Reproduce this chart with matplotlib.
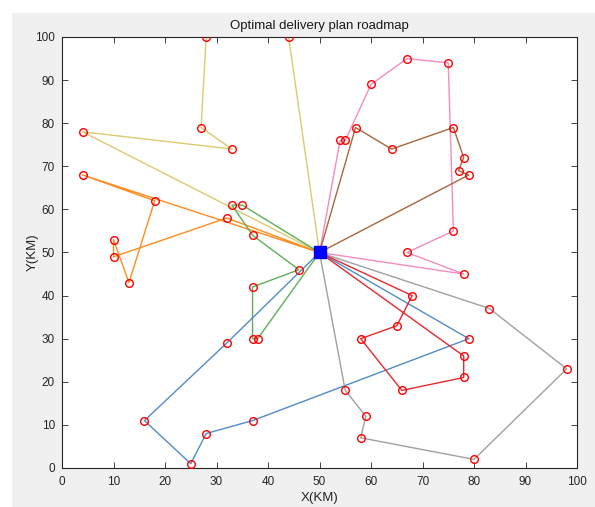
import matplotlib
matplotlib.use("Agg")
import matplotlib.pyplot as plt
from matplotlib.patches import Rectangle

depot = (50, 50)

# each route: customer points in visiting order (start and end at the depot)
route_yellow_x = [44, 28, 27, 33, 4]
route_yellow_y = [100, 100, 79, 74, 78]
route_orange_x = [32, 10, 10, 13, 18, 4]
route_orange_y = [58, 49, 53, 43, 62, 68]
route_green_x = [35, 33, 37, 46, 37, 37, 38]
route_green_y = [61, 61, 54, 46, 42, 30, 30]
route_blue_x = [32, 16, 25, 28, 37, 79]
route_blue_y = [29, 11, 1, 8, 11, 30]
route_gray_x = [55, 59, 58, 80, 98, 83]
route_gray_y = [18, 12, 7, 2, 23, 37]
route_red_x = [68, 65, 58, 66, 78, 78]
route_red_y = [40, 33, 30, 18, 21, 26]
route_pink_x = [78, 67, 76, 75, 67, 60, 55, 54]
route_pink_y = [45, 50, 55, 94, 95, 89, 76, 76]
route_brown_x = [57, 64, 76, 78, 77, 79]
route_brown_y = [79, 74, 79, 72, 69, 68]

routes = [
    (route_yellow_x, route_yellow_y, '#DCCB6E'),
    (route_orange_x, route_orange_y, '#FF8C1E'),
    (route_green_x, route_green_y, '#5DB05A'),
    (route_blue_x, route_blue_y, '#4F8CC8'),
    (route_gray_x, route_gray_y, '#A0A0A0'),
    (route_red_x, route_red_y, '#E8282B'),
    (route_pink_x, route_pink_y, '#F48CC0'),
    (route_brown_x, route_brown_y, '#A8663C'),
]

plt.rcParams['font.family'] = ['Liberation Sans', 'DejaVu Sans']

fig = plt.figure(figsize=(5.95, 5.07), dpi=100)
fig.patch.set_facecolor('white')
fig.patches.append(Rectangle((12 / 595, 0), 1, (507 - 13) / 507, transform=fig.transFigure,
                             facecolor='#F0F0F0', edgecolor='none', zorder=-10))
ax = fig.add_axes([62 / 595, 39 / 507, 515 / 595, 431 / 507])

for xs, ys, c in routes:
    px = [depot[0]] + xs + [depot[0]]
    py = [depot[1]] + ys + [depot[1]]
    ax.plot(px, py, color=c, linewidth=1.0, zorder=2)
for xs, ys, c in routes:
    ax.plot(xs, ys, 'o', markerfacecolor='none', markeredgecolor='red',
            markersize=5.5, markeredgewidth=1.0, linestyle='none', zorder=3)
ax.plot(depot[0], depot[1], 's', color='blue', markersize=8.5, zorder=4)

ax.set_xlim(0, 100)
ax.set_ylim(0, 100)
ax.set_xticks(range(0, 101, 10))
ax.set_yticks(range(0, 101, 10))
ax.tick_params(direction='in', top=True, right=True, labelsize=8.5, colors='#262626',
               length=4, width=0.6)
ax.tick_params(axis='x', pad=6)
ax.tick_params(axis='y', pad=5)
for s in ax.spines.values():
    s.set_linewidth(0.8)
    s.set_color('#262626')
ax.set_title("Optimal delivery plan roadmap", fontsize=9.5, color='#1a1a1a', pad=6)
ax.set_xlabel("X(KM)", fontsize=9.5, color='#262626', labelpad=3)
ax.set_ylabel("Y(KM)", fontsize=9.5, color='#262626', labelpad=-2.5)

fig.savefig("out.png", dpi=100)
